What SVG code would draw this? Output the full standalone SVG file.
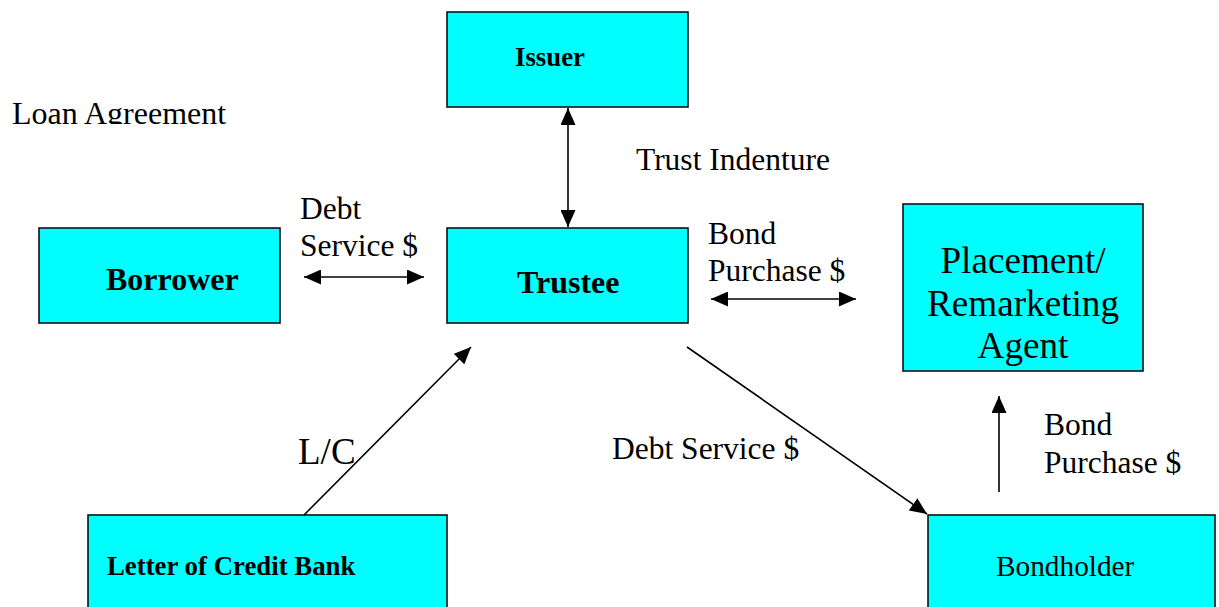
<svg xmlns="http://www.w3.org/2000/svg" width="1219" height="607" viewBox="0 0 1219 607">
<style>
.box{fill:#00FFFF;stroke:#111;stroke-width:1.6}
.t{font-family:"Liberation Serif","Times New Roman",serif;fill:#000}
.b{font-weight:bold}
.lbl{font-size:31.5px}
.ln{stroke:#000;stroke-width:1.6;fill:none}
</style>
<defs>
<marker id="ah" viewBox="0 0 17 15" refX="17" refY="7.5" markerWidth="17" markerHeight="15" markerUnits="userSpaceOnUse" orient="auto-start-reverse">
<path d="M0,0 L17,7.5 L0,15 z" fill="#000"/>
</marker>
<clipPath id="clipLoan"><rect x="0" y="90" width="260" height="34"/></clipPath>
</defs>
<rect width="1219" height="607" fill="#fff"/>
<g id="loan-label">
<text class="t" x="12" y="124" font-size="32" clip-path="url(#clipLoan)">Loan Agreement</text>
</g>
<g id="issuer">
<rect class="box" x="447" y="12" width="241" height="95"/>
<text class="t b" x="515" y="66" font-size="26.8">Issuer</text>
</g>
<g id="trustee">
<rect class="box" x="447" y="228" width="241" height="95"/>
<text class="t b" x="517" y="293" font-size="32">Trustee</text>
</g>
<g id="borrower">
<rect class="box" x="39" y="228" width="241" height="95"/>
<text class="t b" x="106" y="290" font-size="32">Borrower</text>
</g>
<g id="placement">
<rect class="box" x="903" y="204" width="240" height="167"/>
<text class="t" x="1023" y="273" font-size="37.2" text-anchor="middle">Placement/</text>
<text class="t" x="1023" y="316" font-size="37.2" text-anchor="middle">Remarketing</text>
<text class="t" x="1023" y="358" font-size="37.2" text-anchor="middle">Agent</text>
</g>
<g id="lc-bank">
<rect class="box" x="88" y="515" width="359" height="110"/>
<text class="t b" x="107" y="575" font-size="26.8">Letter of Credit Bank</text>
</g>
<g id="bondholder">
<rect class="box" x="928" y="515" width="287" height="110"/>
<text class="t" x="996" y="576" font-size="29.3">Bondholder</text>
</g>
<g id="connectors">
<line class="ln" x1="568" y1="108" x2="568" y2="227" marker-start="url(#ah)" marker-end="url(#ah)"/>
<line class="ln" x1="304" y1="277" x2="424" y2="277" marker-start="url(#ah)" marker-end="url(#ah)"/>
<line class="ln" x1="711" y1="299" x2="856" y2="299" marker-start="url(#ah)" marker-end="url(#ah)"/>
<line class="ln" x1="304" y1="515" x2="471" y2="347" marker-end="url(#ah)"/>
<line class="ln" x1="687" y1="347" x2="927" y2="514" marker-end="url(#ah)"/>
<line class="ln" x1="999" y1="492" x2="999" y2="396" marker-end="url(#ah)"/>
</g>
<g id="labels">
<text class="t lbl" x="636" y="170">Trust Indenture</text>
<text class="t lbl" x="300" y="219">Debt</text>
<text class="t lbl" x="300" y="256">Service $</text>
<text class="t lbl" x="708" y="244">Bond</text>
<text class="t lbl" x="708" y="281">Purchase $</text>
<text class="t" x="298" y="464" font-size="37">L/C</text>
<text class="t lbl" x="612" y="459">Debt Service $</text>
<text class="t lbl" x="1044" y="435">Bond</text>
<text class="t lbl" x="1044" y="473">Purchase $</text>
</g>
</svg>
